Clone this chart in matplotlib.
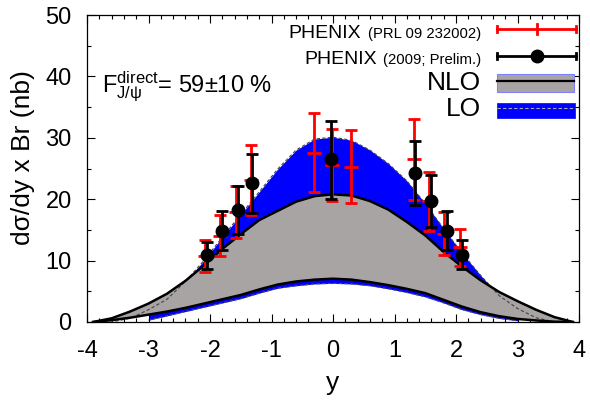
import matplotlib
matplotlib.use("Agg")
import matplotlib.pyplot as plt
from matplotlib.ticker import MultipleLocator
from matplotlib.patches import Rectangle
from matplotlib.lines import Line2D

plt.rcParams['font.family'] = ['Liberation Sans', 'DejaVu Sans']
plt.rcParams['mathtext.fontset'] = 'custom'
plt.rcParams['mathtext.rm'] = 'Liberation Sans'
plt.rcParams['mathtext.it'] = 'Liberation Sans:italic'
plt.rcParams['mathtext.bf'] = 'Liberation Sans:bold'
plt.rcParams['axes.unicode_minus'] = False

# ---------------- data ----------------
y_grid = [-3.9, -3.6, -3.3, -3.0, -2.7, -2.4, -2.1, -1.8, -1.5, -1.2, -0.9, -0.6, -0.3, 0.0,
          0.3, 0.6, 0.9, 1.2, 1.5, 1.8, 2.1, 2.4, 2.7, 3.0, 3.3, 3.6, 3.9]
nlo_upper = [0.0, 0.6, 1.7, 3.0, 4.6, 6.7, 9.2, 11.9, 14.3, 16.6, 18.1, 19.6, 20.5, 20.8,
             20.6, 19.7, 18.3, 16.3, 14.1, 11.4, 9.0, 6.8, 4.9, 3.4, 2.0, 0.8, 0.0]
nlo_lower = [0.0, 0.3, 0.7, 1.2, 1.7, 2.3, 3.0, 3.7, 4.4, 5.3, 6.1, 6.6, 6.9, 7.05,
             6.9, 6.5, 6.0, 5.4, 4.7, 3.6, 2.5, 1.6, 0.95, 0.5, 0.25, 0.05, 0.0]
lo_upper = [0.0, 0.0, 0.6, 2.0, 3.7, 6.6, 10.0, 13.8, 17.5, 21.2, 24.9, 28.0, 29.8, 30.1,
            29.6, 28.0, 25.8, 23.0, 19.3, 15.2, 11.2, 7.6, 4.3, 2.2, 0.7, 0.0, 0.0]
# LO lower edge, defined on y_grid from -3.0 to 3.0
lo_lower = [0.3, 1.0, 1.7, 2.4, 3.1, 3.8, 4.7, 5.5, 5.9, 6.2, 6.3,
            6.2, 5.9, 5.4, 4.8, 4.1, 3.1, 2.0, 1.2, 0.6, 0.2]

# PHENIX (PRL 09 232002)
prl_y = [-2.08, -1.84, -1.58, -1.34, -0.31, -0.02, 0.29, 1.31, 1.56, 1.80, 2.07]
prl_val = [10.7, 14.0, 17.9, 23.1, 27.6, 25.5, 25.3, 26.5, 19.7, 14.4, 12.2]
prl_hi = [13.4, 17.4, 22.1, 28.8, 34.0, 31.5, 31.3, 33.0, 24.5, 17.9, 15.2]
prl_lo = [8.1, 10.7, 13.75, 17.4, 21.2, 19.7, 19.3, 19.8, 14.8, 10.9, 9.1]

# PHENIX (2009; Prelim.)
pre_y = [-2.05, -1.80, -1.55, -1.31, -0.03, 1.34, 1.59, 1.85, 2.09]
pre_val = [10.9, 14.9, 18.3, 22.6, 26.6, 24.2, 19.7, 14.8, 10.9]
pre_hi = [13.0, 18.1, 22.2, 27.3, 32.8, 29.5, 23.9, 18.0, 13.3]
pre_lo = [8.7, 11.8, 14.4, 17.8, 20.0, 19.0, 15.4, 11.7, 8.7]

# ---------------- figure ----------------
W, H = 590, 401
fig = plt.figure(figsize=(W / 100, H / 100), dpi=100)
ax = fig.add_axes([87 / W, 1 - 322 / H, 492 / W, 307 / H])

blue = '#0000ff'
gray = '#a8a4a4'

i0 = y_grid.index(-3.0)
i1 = y_grid.index(3.0) + 1
ax.fill_between(y_grid[i0:i1], lo_lower, lo_upper[i0:i1], color=blue, lw=0, zorder=1)
ax.plot(y_grid[i0:i1], lo_lower, color='#555555', lw=0.8, ls=(0, (3, 2)), zorder=1.5)
ax.fill_between(y_grid, nlo_lower, nlo_upper, color=gray, lw=0, zorder=2)
ax.plot(y_grid, lo_upper, color='#444444', lw=0.8, ls=(0, (3, 2)), zorder=3)
ax.plot(y_grid, nlo_upper, color='black', lw=1.8, zorder=4)
ax.plot(y_grid, nlo_lower, color='black', lw=1.8, zorder=4)

# data
ax.errorbar(prl_y, prl_val,
            yerr=[[v - l for v, l in zip(prl_val, prl_lo)], [h - v for v, h in zip(prl_val, prl_hi)]],
            fmt='_', color='red', ms=10, mew=2, elinewidth=2, capsize=4, capthick=2, zorder=5)
ax.errorbar(pre_y, pre_val,
            yerr=[[v - l for v, l in zip(pre_val, pre_lo)], [h - v for v, h in zip(pre_val, pre_hi)]],
            fmt='o', color='black', ms=9, elinewidth=2, capsize=4, capthick=2, zorder=6)

ax.set_xlim(-4, 4)
ax.set_ylim(0, 50)
ax.xaxis.set_major_locator(MultipleLocator(1))
ax.xaxis.set_minor_locator(MultipleLocator(0.2))
ax.yaxis.set_major_locator(MultipleLocator(10))
ax.yaxis.set_minor_locator(MultipleLocator(5))
ax.tick_params(which='both', direction='in', top=True, right=True, width=0.8)
ax.tick_params(which='major', length=6, labelsize=17)
ax.tick_params(which='minor', length=3)
ax.tick_params(axis='x', which='major', pad=13)
ax.tick_params(axis='y', which='major', pad=11)
for s in ax.spines.values():
    s.set_linewidth(0.9)


def fx(px):
    return px / W


def fy(py):
    return 1 - py / H


fig.text(fx(333), fy(390), 'y', fontsize=19, ha='center', va='baseline')
fig.text(fx(23), fy(158), 'dσ/dy x Br (nb)', fontsize=19, rotation=90, ha='center', va='center')

fig.text(fx(102), fy(92), r'$\mathrm{F^{direct}_{J/\psi}}$= 59$\pm$10 %', fontsize=17,
         ha='left', va='baseline')

# legend
fig.text(fx(361), fy(38), 'PHENIX', fontsize=14, ha='right', va='baseline')
fig.text(fx(481), fy(38), '(PRL 09 232002)', fontsize=10.7, ha='right', va='baseline')
fig.text(fx(377), fy(64), 'PHENIX', fontsize=14, ha='right', va='baseline')
fig.text(fx(481), fy(64), '(2009; Prelim.)', fontsize=10.7, ha='right', va='baseline')
fig.text(fx(481), fy(90), 'NLO', fontsize=19, ha='right', va='baseline')
fig.text(fx(481), fy(116), 'LO', fontsize=19, ha='right', va='baseline')


def fline(xs, ys, **kw):
    fig.add_artist(Line2D([fx(v) for v in xs], [fy(v) for v in ys], transform=fig.transFigure, **kw))


# red sample
fline([497, 576], [29, 29], color='red', lw=2)
fline([497, 497], [26, 32], color='red', lw=2)
fline([576, 576], [26, 32], color='red', lw=2)
fline([537, 537], [24, 34], color='red', lw=2)
# black sample
fline([497, 576], [56, 56], color='black', lw=2)
fline([497, 497], [53, 59], color='black', lw=2)
fline([576, 576], [53, 59], color='black', lw=2)
fline([537], [56], color='black', marker='o', ms=9, lw=0)
# NLO sample
fig.add_artist(Rectangle((fx(497), fy(92)), (574 - 497) / W, 18 / H, transform=fig.transFigure,
                         facecolor=gray, edgecolor='#8080ff', lw=0.8))
fline([497, 574], [81, 81], color='black', lw=1.6)
# LO sample
fig.add_artist(Rectangle((fx(497), fy(118)), (575 - 497) / W, 15 / H, transform=fig.transFigure,
                         facecolor=blue, edgecolor=blue, lw=0.5))
fline([497, 575], [108, 108], color='#aaaaaa', lw=0.8, ls=(0, (3, 2)))

fig.savefig('out.png', dpi=100)
